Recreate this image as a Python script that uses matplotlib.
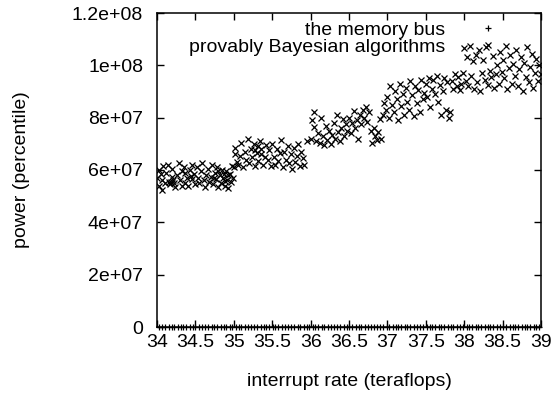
import matplotlib
matplotlib.use("Agg")
import matplotlib.pyplot as plt
from matplotlib.ticker import FuncFormatter

plt.rcParams['font.family'] = ['Liberation Sans', 'DejaVu Sans']

# ---- data ----
x_ticks = [34, 34.5, 35, 35.5, 36, 36.5, 37, 37.5, 38, 38.5, 39]
y_ticks = [0, 2e7, 4e7, 6e7, 8e7, 1e8, 1.2e8]

series_names = ["the memory bus", "provably Bayesian algorithms"]

# "the memory bus": values near zero (percentile) at this scale
membus_x = [
    34.02, 34.06, 34.11, 34.15, 34.19, 34.22, 34.27, 34.31, 34.34, 34.38,
    34.43, 34.47, 34.50, 34.55, 34.58, 34.62, 34.66, 34.71, 34.74, 34.78,
    34.83, 34.87, 34.90, 34.95, 34.98, 35.03, 35.07, 35.10, 35.14, 35.19,
    35.23, 35.26, 35.30, 35.35, 35.39, 35.42, 35.46, 35.51, 35.54, 35.58,
    35.63, 35.67, 35.70, 35.74, 35.79, 35.83, 35.86, 35.91, 35.95, 35.98,
    36.03, 36.06, 36.10, 36.15, 36.18, 36.23, 36.27, 36.30, 36.35, 36.38,
    36.43, 36.47, 36.50, 36.54, 36.59, 36.63, 36.66, 36.71, 36.75, 36.78,
    36.82, 36.87, 36.91, 36.94, 36.99, 37.02, 37.07, 37.11, 37.14, 37.18,
    37.23, 37.26, 37.30, 37.35, 37.39, 37.42, 37.46, 37.51, 37.55, 37.58,
    37.62, 37.67, 37.70, 37.74, 37.79, 37.83, 37.86, 37.90, 37.95, 37.99,
    38.03, 38.06, 38.10, 38.15, 38.18, 38.22, 38.27, 38.31, 38.34, 38.38,
    38.43, 38.47, 38.50, 38.54, 38.59, 38.63, 38.66, 38.70, 38.75, 38.79,
    38.82, 38.86, 38.91, 38.94, 38.98,
]
membus_y = [
    41, 73, 18, 56, 90, 27, 64, 8, 49, 82,
    35, 12, 77, 59, 23, 95, 46, 68, 3, 84,
    52, 29, 71, 15, 88, 37, 61, 20, 93, 44,
    6, 79, 58, 31, 66, 14, 87, 50, 25, 70,
    92, 39, 11, 76, 54, 28, 63, 97, 19, 48,
    81, 33, 5, 69, 57, 22, 90, 43, 74, 16,
    60, 36, 85, 9, 51, 78, 26, 65, 47, 13,
    89, 32, 72, 55, 21, 98, 40, 62, 7, 83,
    45, 17, 75, 58, 30, 91, 4, 67, 53, 24,
    86, 38, 70, 12, 59, 80, 27, 49, 94, 34,
    63, 10, 77, 42, 88, 19, 56, 31, 73, 2,
    50, 84, 23, 66, 39, 95, 14, 61, 45, 79,
    28, 71, 8, 54, 87,
]

# "provably Bayesian algorithms": (interrupt rate, power in millions)
bayes_points = [
    (34.00, 57.0), (34.02, 54.0), (34.03, 60.0), (34.05, 58.5), (34.07, 56.0),
    (34.08, 61.5), (34.10, 55.0), (34.12, 59.0), (34.14, 62.0), (34.15, 55.5),
    (34.17, 54.5), (34.19, 57.5), (34.20, 60.5), (34.22, 55.0), (34.24, 53.5),
    (34.26, 58.0), (34.28, 62.5), (34.30, 56.0), (34.32, 54.0), (34.33, 59.5),
    (34.35, 61.0), (34.37, 55.0), (34.39, 57.0), (34.41, 53.8), (34.43, 60.0),
    (34.45, 62.0), (34.46, 56.5), (34.48, 58.5), (34.50, 54.5), (34.18, 55.4),
    (34.21, 56.2), (34.06, 52.5), (34.36, 58.8), (34.44, 57.6),
    (34.52, 61.0), (34.54, 57.0), (34.55, 55.0), (34.57, 59.5), (34.59, 62.5),
    (34.61, 56.0), (34.63, 53.5), (34.64, 58.0), (34.66, 60.5), (34.68, 55.5),
    (34.70, 57.5), (34.71, 62.0), (34.73, 54.5), (34.75, 59.0), (34.77, 56.5),
    (34.78, 61.0), (34.80, 53.5), (34.82, 58.0), (34.83, 55.0), (34.85, 60.0),
    (34.86, 57.0), (34.88, 54.0), (34.90, 59.5), (34.91, 56.0), (34.93, 53.0),
    (34.95, 58.5), (34.96, 55.5), (34.98, 61.5), (34.99, 57.0), (34.87, 58.6),
    (34.89, 55.8), (34.92, 57.9), (34.79, 59.8), (34.74, 56.9),
    (35.00, 61.0), (35.01, 66.0), (35.02, 68.5), (35.04, 63.0), (35.06, 62.0),
    (35.08, 65.5), (35.10, 70.5), (35.12, 61.0), (35.14, 67.0), (35.16, 64.0),
    (35.18, 72.0), (35.20, 62.5), (35.22, 68.0), (35.24, 65.0), (35.26, 70.0),
    (35.28, 61.5), (35.30, 66.5), (35.32, 63.5), (35.34, 71.0), (35.36, 68.0),
    (35.38, 62.0), (35.40, 65.0), (35.42, 69.5), (35.44, 64.0), (35.46, 67.5),
    (35.48, 61.5), (35.27, 67.8), (35.31, 69.2), (35.35, 66.2),
    (35.50, 70.0), (35.52, 65.0), (35.54, 62.0), (35.56, 68.0), (35.58, 63.5),
    (35.60, 66.5), (35.62, 71.5), (35.64, 61.0), (35.66, 67.0), (35.68, 64.0),
    (35.70, 69.0), (35.72, 62.5), (35.74, 66.0), (35.76, 60.5), (35.78, 68.5),
    (35.80, 63.0), (35.82, 65.5), (35.84, 70.0), (35.86, 61.5), (35.88, 67.0),
    (35.90, 64.5), (35.92, 62.0), (35.95, 71.0),
    (36.00, 72.0), (36.02, 79.0), (36.04, 82.0), (36.05, 76.5), (36.07, 71.0),
    (36.10, 74.0), (36.12, 70.5), (36.14, 80.0), (36.16, 73.0), (36.18, 69.5),
    (36.20, 77.0), (36.22, 71.5), (36.24, 75.0), (36.26, 70.0), (36.28, 73.5),
    (36.30, 78.0), (36.32, 72.0), (36.34, 81.0), (36.36, 74.5), (36.38, 71.0),
    (36.40, 76.0), (36.42, 79.5), (36.44, 73.0), (36.46, 77.5), (36.48, 75.0),
    (36.50, 80.0), (36.52, 74.0), (36.54, 78.0), (36.56, 82.5), (36.58, 76.0),
    (36.60, 79.0), (36.62, 72.0), (36.64, 81.0), (36.66, 77.5), (36.68, 83.0),
    (36.70, 80.0), (36.72, 84.0), (36.74, 78.5), (36.76, 82.0), (36.78, 75.0),
    (36.80, 70.5), (36.82, 76.0), (36.84, 73.0), (36.86, 71.5), (36.88, 74.5),
    (36.90, 79.5), (36.92, 72.0), (36.94, 81.0), (36.96, 85.5), (36.98, 83.0),
    (37.00, 88.0), (37.02, 80.0), (37.04, 92.0), (37.06, 85.0), (37.08, 82.0),
    (37.10, 90.0), (37.12, 87.0), (37.14, 79.0), (37.16, 93.0), (37.18, 84.5),
    (37.20, 89.0), (37.22, 81.0), (37.24, 91.5), (37.26, 86.0), (37.28, 83.0),
    (37.30, 94.0), (37.32, 88.5), (37.34, 80.5), (37.36, 92.0), (37.38, 85.5),
    (37.40, 90.5), (37.42, 82.0), (37.44, 94.5), (37.46, 87.0), (37.48, 89.5),
    (37.50, 93.0), (37.52, 88.0), (37.54, 95.0), (37.56, 84.0), (37.58, 91.0),
    (37.60, 94.5), (37.62, 89.0), (37.64, 96.0), (37.66, 86.0), (37.68, 92.5),
    (37.70, 81.0), (37.72, 90.0), (37.74, 95.0), (37.76, 83.0), (37.78, 93.5),
    (37.80, 80.0), (37.82, 82.0), (37.84, 94.0), (37.86, 91.0), (37.88, 96.5),
    (37.90, 92.0), (37.92, 95.5), (37.94, 90.5), (37.96, 93.0), (37.98, 97.0),
    (38.00, 106.5), (38.02, 94.0), (38.03, 103.0), (38.05, 92.0), (38.07, 107.5),
    (38.09, 96.0), (38.11, 101.5), (38.13, 91.0), (38.15, 104.0), (38.17, 93.5),
    (38.19, 106.0), (38.21, 90.0), (38.23, 97.0), (38.25, 102.0), (38.27, 94.5),
    (38.29, 107.0), (38.31, 92.5), (38.33, 98.0), (38.35, 95.5), (38.37, 103.5),
    (38.39, 91.5), (38.41, 96.5), (38.43, 100.0), (38.45, 93.0), (38.47, 105.0),
    (38.49, 97.5),
    (38.50, 102.0), (38.52, 95.0), (38.54, 107.5), (38.56, 91.0), (38.58, 99.0),
    (38.60, 104.0), (38.62, 93.0), (38.64, 100.5), (38.66, 96.0), (38.68, 106.0),
    (38.70, 92.0), (38.72, 98.5), (38.74, 103.0), (38.76, 90.0), (38.78, 101.0),
    (38.80, 95.5), (38.82, 107.0), (38.84, 93.5), (38.86, 99.5), (38.88, 104.5),
    (38.90, 91.5), (38.92, 97.0), (38.94, 102.5), (38.96, 94.0), (38.98, 100.0),
    (39.00, 96.5),
]

bayes_x = [p[0] for p in bayes_points]
bayes_y = [p[1] * 1e6 for p in bayes_points]

FS = 14

# ---- figure ----
fig = plt.figure(figsize=(5.58, 3.95), dpi=100)
ax = fig.add_axes([157 / 558, 1 - 327 / 395, (541 - 157) / 558, (327 - 13) / 395])

ax.plot(membus_x, membus_y, linestyle='none', marker='+', markersize=5,
        markeredgewidth=0.9, color='black', label=series_names[0], clip_on=False)
ax.plot(bayes_x, bayes_y, linestyle='none', marker='x', markersize=4.5,
        markeredgewidth=0.9, color='black', label=series_names[1])

ax.set_xlim(34, 39)
ax.set_ylim(0, 1.2e8)
ax.set_xticks(x_ticks)
ax.set_yticks(y_ticks)
fmt = FuncFormatter(lambda v, p: '%g' % v)
ax.xaxis.set_major_formatter(fmt)
ax.yaxis.set_major_formatter(fmt)
ax.tick_params(direction='in', length=5, width=1, top=True, right=True,
               labelsize=FS)
ax.tick_params(axis='y', pad=10)
ax.tick_params(axis='x', pad=5)
for s in ax.spines.values():
    s.set_linewidth(1.1)

ax.set_xlabel('interrupt rate (teraflops)', fontsize=FS)
ax.set_ylabel('power (percentile)', fontsize=FS)
ax.xaxis.set_label_coords((349 - 157) / 384, (327 - 381) / 314)
ax.xaxis.label.set_va('center')
ax.yaxis.set_label_coords((22 - 157) / 384, (327 - 170) / 314)
ax.yaxis.label.set_va('center')

ax.legend(loc='upper right', bbox_to_anchor=((507 - 157) / 384, (327 - 21) / 314),
          markerfirst=False, frameon=False, fontsize=FS,
          handlelength=2.0, handletextpad=1.2, borderaxespad=0.0,
          labelspacing=0.0, borderpad=0.0)

fig.savefig('out.png', dpi=100)
